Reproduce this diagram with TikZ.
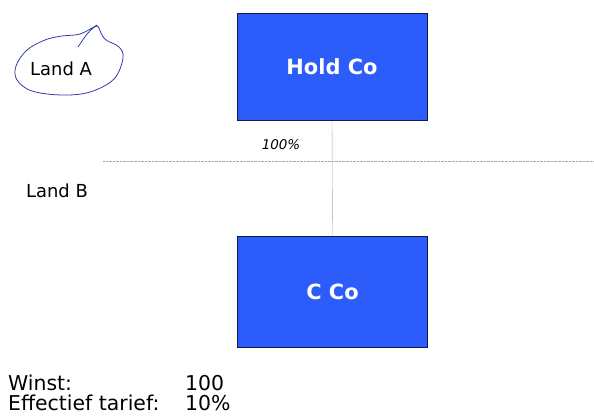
\documentclass[tikz,border=0pt]{standalone}
\usepackage{fontspec}
\setmainfont{DejaVu Sans}
\usepackage{tikz}
\usetikzlibrary{arrows.meta}
\definecolor{coblue}{RGB}{44,92,250}
\definecolor{conavy}{RGB}{20,25,70}
\definecolor{penblue}{RGB}{50,60,170}
\tikzset{
	company/.style={draw=conavy, semithick, fill=coblue, text=white, font=\bfseries\fontsize{21}{24}\selectfont, minimum width=190bp, minimum height=107bp, inner sep=0pt},
	plain/.style={font=\fontsize{18}{21}\selectfont, inner sep=0pt},
	figure/.style={anchor=west, inner sep=0pt, font=\fontsize{20.5}{23}\selectfont},
	own/.style={draw=gray!70, thin}
}

\begin{document}
\begin{tikzpicture}
					[x=1bp,y=-1bp]
					\useasboundingbox (0,0) rectangle (594,418);
					% boxes
					\node[company] (hold) at (332, 67) {Hold Co};
					\node[company, minimum height=111bp] (cco) at (332.5, 291.5) {C Co};
					% ownership
					\draw[own] (hold.south) -- (cco.north);
					\node[plain, font=\itshape\fontsize{13.5}{15}\selectfont] (pct) at (281, 145) {100\%};
					% border
					\coordinate (bl) at (103, 161);
					\coordinate (br) at (594, 161);
					\draw[gray!70, densely dotted, thin] (bl) -- (br);
					% text
					\node[plain] (landa) at (61, 69) {Land A};
					\node[plain] (landb) at (57, 191) {Land B};
					\node[figure] (winst) at (8, 383) {Winst:};
					\node[figure] (winstv) at (185, 383) {100};
					\node[figure] (tarief) at (8, 403) {Effectief tarief:};
					\node[figure] (tariefv) at (185, 403) {10\%};
					% pen loop
					\draw[penblue, thick, line cap=round] plot[smooth, tension=0.6] coordinates {
						(78,47) (88,33) (97,26) (101,33) (106,40) (119,47) (123,58) (114,79) (90,92) (62,95) (32,91) (17,80) (16,66) (27,50) (45,40) (62,36) (80,34) (97,25)};
				\end{tikzpicture}
\end{document}
